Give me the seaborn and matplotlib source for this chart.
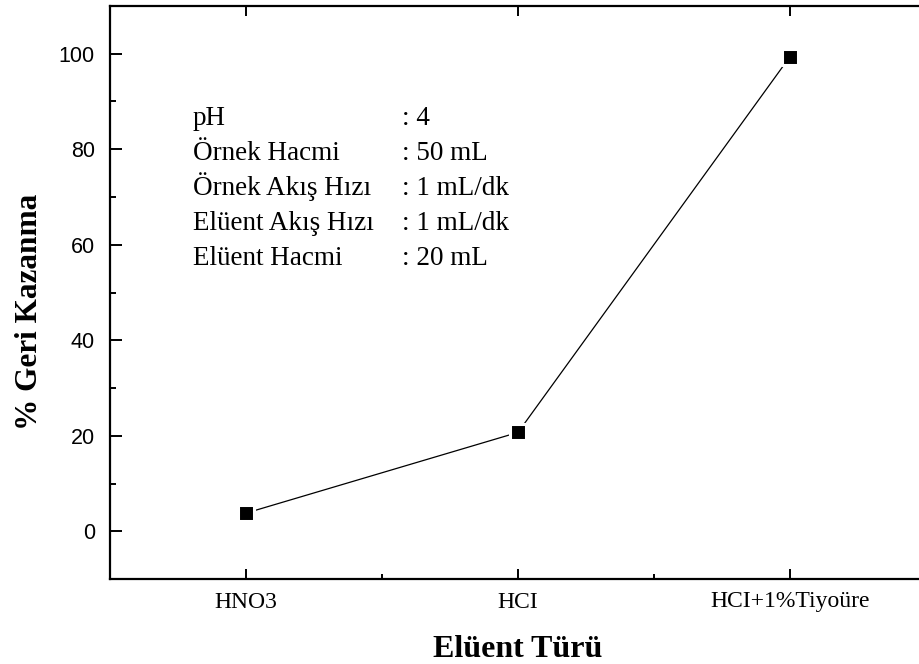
import matplotlib
matplotlib.use("Agg")
import matplotlib.pyplot as plt
import seaborn as sns
import numpy as np
import pandas as pd
from matplotlib.ticker import MultipleLocator

# ---- data ----
categories = ["HNO3", "HCI", "HCI+1%Tiyoüre"]
recovery = [3.8, 20.7, 99.4]
y_ticks = [0, 20, 40, 60, 80, 100]
info_labels = ["pH", "Örnek Hacmi", "Örnek Akış Hızı", "Elüent Akış Hızı", "Elüent Hacmi"]
info_values = [": 4", ": 50 mL", ": 1 mL/dk", ": 1 mL/dk", ": 20 mL"]

sns.set_style("ticks")
plt.rcParams["font.family"] = ["Liberation Serif", "DejaVu Serif"]
for k in ["text.color", "axes.labelcolor", "xtick.color", "ytick.color", "axes.edgecolor"]:
    plt.rcParams[k] = "black"

W, H = 920, 664
fig = plt.figure(figsize=(W / 100, H / 100), dpi=100)
ax = fig.add_axes([110 / W, 85 / H, 816 / W, 573 / H])

df = pd.DataFrame({"pos": np.arange(1, len(categories) + 1), "val": recovery})
sns.lineplot(data=df, x="pos", y="val", ax=ax, color="black", linewidth=0.9, zorder=2)
sns.scatterplot(data=df, x="pos", y="val", ax=ax, marker="s", s=11.6 ** 2,
                color="black", edgecolor="white", linewidth=2.2, zorder=3)

ax.set_xlim(0.5, 3.5)
ax.set_ylim(-10, 110)
ax.set_xticks(df["pos"])
ax.set_xticklabels(categories, fontsize=17, family=["Liberation Serif"])
ax.xaxis.set_minor_locator(MultipleLocator(0.5))
ax.set_yticks(y_ticks)
ax.set_yticklabels([str(v) for v in y_ticks], fontsize=15.5, family=["Liberation Sans"])
ax.yaxis.set_minor_locator(MultipleLocator(10))

for side in ["left", "bottom", "top"]:
    ax.spines[side].set_linewidth(1.6)
    ax.spines[side].set_color("black")
ax.spines["right"].set_visible(False)

ax.tick_params(axis="x", which="major", direction="in", length=7.2, width=1.4,
               pad=9, colors="black", top=True)
ax.tick_params(axis="x", which="minor", direction="in", length=3.6, width=1.4,
               top=False)
ax.tick_params(axis="y", which="major", direction="in", length=8.6, width=1.4,
               pad=10.8, colors="black")
ax.tick_params(axis="y", which="minor", direction="in", length=4.3, width=1.4)
ax.tick_params(axis="x", which="major", labeltop=False)

ax.set_xlabel("Elüent Türü", fontsize=23, fontweight="bold", labelpad=16.5, color="black")
ax.set_ylabel("% Geri Kazanma", fontsize=22.5, fontweight="bold", color="black")
ax.yaxis.set_label_coords(-0.081, 0.467)

ys = [0.792, 0.731, 0.670, 0.609, 0.548]
for lab, val, yy in zip(info_labels, info_values, ys):
    ax.text(0.1017, yy, lab, transform=ax.transAxes, fontsize=19.5, va="baseline", ha="left", color="black")
    ax.text(0.358, yy, val, transform=ax.transAxes, fontsize=19.5, va="baseline", ha="left", color="black")

fig.savefig("out.png", dpi=100)
